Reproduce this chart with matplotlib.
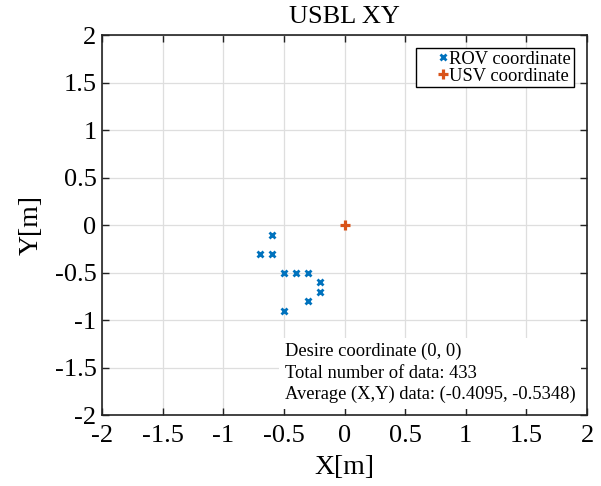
import matplotlib
matplotlib.use("Agg")
import matplotlib.pyplot as plt

rov_x = [-0.6, -0.7, -0.6, -0.5, -0.4, -0.3, -0.2, -0.2, -0.3, -0.5]
rov_y = [-0.1, -0.3, -0.3, -0.5, -0.5, -0.5, -0.6, -0.7, -0.8, -0.9]
usv_x = [0.0]
usv_y = [0.0]
ticks = [-2, -1.5, -1, -0.5, 0, 0.5, 1, 1.5, 2]
tick_labels = ["-2", "-1.5", "-1", "-0.5", "0", "0.5", "1", "1.5", "2"]
info_lines = ["Desire coordinate (0, 0)",
              "Total number of data: 433",
              "Average (X,Y) data: (-0.4095, -0.5348)"]

plt.rcParams['font.family'] = ['Liberation Serif', 'DejaVu Serif']

fig = plt.figure(figsize=(6.01, 4.86), dpi=100)
ax = fig.add_axes([102/601, 1-415/486, 485/601, 380/486])

ax.plot(rov_x, rov_y, linestyle='none', marker='x', color='#0072BD',
        markersize=5, markeredgewidth=2.0, label='ROV coordinate', zorder=3)
ax.plot(usv_x, usv_y, linestyle='none', marker='+', color='#D95319',
        markersize=6.5, markeredgewidth=2.3, label='USV coordinate', zorder=3)

ax.set_xlim(-2, 2)
ax.set_ylim(-2, 2)
ax.set_xticks(ticks)
ax.set_xticklabels(tick_labels)
ax.set_yticks(ticks)
ax.set_yticklabels(tick_labels)
ax.tick_params(direction='in', top=True, right=True, labelsize=19, length=5,
               width=1, colors='#222222')
ax.tick_params(axis='x', pad=7)
ax.tick_params(axis='y', pad=4)
for lab in ax.get_xticklabels() + ax.get_yticklabels():
    lab.set_color('black')
ax.grid(True, color='#dedede', linewidth=0.9)
ax.set_axisbelow(True)
for s in ax.spines.values():
    s.set_linewidth(1.2)
    s.set_color('#222222')

ax.set_title('USBL XY', fontsize=19, pad=9)
ax.set_xlabel('X[m]', fontsize=20, labelpad=6)
ax.set_ylabel('Y[m]', fontsize=20, labelpad=8)

leg = ax.legend(loc='upper right', bbox_to_anchor=(0.973, 0.966), fontsize=13.3,
                handlelength=2.6, handletextpad=-0.96, borderpad=0.15,
                labelspacing=0.0, fancybox=False, framealpha=1,
                edgecolor='black', borderaxespad=0.0)
leg.get_frame().set_linewidth(1.0)

ax.text(0.377, 0.189, "\n".join(info_lines), transform=ax.transAxes,
        fontsize=13.3, va='top', ha='left', linespacing=1.32,
        bbox=dict(facecolor='white', edgecolor='none', pad=4), zorder=4)

fig.savefig('out.png', dpi=100)
